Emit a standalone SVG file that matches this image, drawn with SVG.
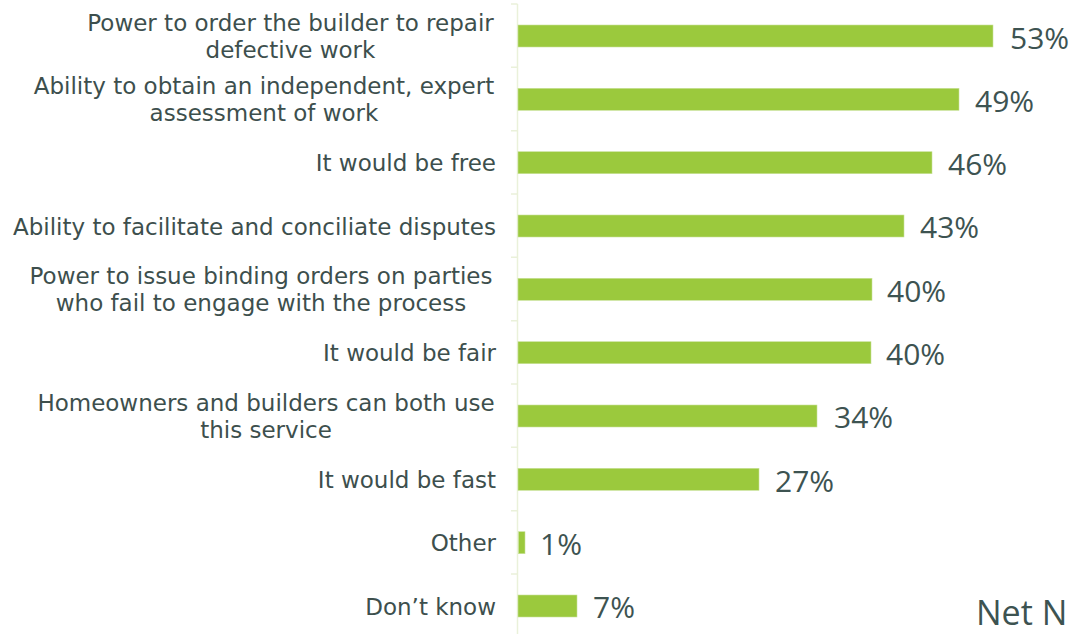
<svg xmlns="http://www.w3.org/2000/svg" width="1073" height="634" viewBox="0 0 1073 634">
  <style>
    .bg { fill: #ffffff; }
    .bar { fill: #9bc93d; stroke: #c9e29a; stroke-width: 0.6; }
    .lbl { font-family: "DejaVu Sans", "Liberation Sans", sans-serif; font-size: 23px; fill: #3d4f4d; }
    .pct { font-family: "Open Sans", "Liberation Sans", sans-serif; font-size: 30px; fill: #3d5351; }
    .axis { stroke: #eaf1da; stroke-width: 1.5; fill: none; }
    .net { font-family: "Open Sans", "Liberation Sans", sans-serif; font-size: 34px; fill: #3d5351; }
  </style>
  <rect class="bg" x="0" y="0" width="1073" height="634"/>

  <g id="axis">
    <path class="axis" d="M517.5 4 V634 M511 4 H517.5 M511 67.3 H517.5 M511 130.7 H517.5 M511 194 H517.5 M511 257.3 H517.5 M511 320.7 H517.5 M511 384 H517.5 M511 447.3 H517.5 M511 510.7 H517.5 M511 574 H517.5"/>
  </g>

  <g id="row-repair">
    <text class="lbl" x="290.5" y="30.5" text-anchor="middle">Power to order the builder to repair</text>
    <text class="lbl" x="290.5" y="57.5" text-anchor="middle">defective work</text>
    <rect class="bar" x="518" y="25" width="475" height="22"/>
    <text class="pct" x="1010" y="49">53%</text>
  </g>

  <g id="row-assessment">
    <text class="lbl" x="264" y="93.8" text-anchor="middle">Ability to obtain an independent, expert</text>
    <text class="lbl" x="264" y="120.8" text-anchor="middle">assessment of work</text>
    <rect class="bar" x="518" y="88.3" width="441" height="22"/>
    <text class="pct" x="975" y="111.5">49%</text>
  </g>

  <g id="row-free">
    <text class="lbl" x="496" y="171.2" text-anchor="end">It would be free</text>
    <rect class="bar" x="518" y="151.7" width="414" height="22"/>
    <text class="pct" x="948" y="175">46%</text>
  </g>

  <g id="row-conciliate">
    <text class="lbl" x="496" y="234.5" text-anchor="end">Ability to facilitate and conciliate disputes</text>
    <rect class="bar" x="518" y="215" width="386" height="22"/>
    <text class="pct" x="920" y="238.3">43%</text>
  </g>

  <g id="row-binding">
    <text class="lbl" x="261" y="283.8" text-anchor="middle">Power to issue binding orders on parties</text>
    <text class="lbl" x="261" y="310.8" text-anchor="middle">who fail to engage with the process</text>
    <rect class="bar" x="518" y="278.3" width="354" height="22"/>
    <text class="pct" x="887" y="301.6">40%</text>
  </g>

  <g id="row-fair">
    <text class="lbl" x="496" y="361.2" text-anchor="end">It would be fair</text>
    <rect class="bar" x="518" y="341.7" width="353" height="22"/>
    <text class="pct" x="886" y="365">40%</text>
  </g>

  <g id="row-both">
    <text class="lbl" x="266" y="410.5" text-anchor="middle">Homeowners and builders can both use</text>
    <text class="lbl" x="266" y="437.5" text-anchor="middle">this service</text>
    <rect class="bar" x="518" y="405" width="299" height="22"/>
    <text class="pct" x="834" y="428.3">34%</text>
  </g>

  <g id="row-fast">
    <text class="lbl" x="496" y="487.8" text-anchor="end">It would be fast</text>
    <rect class="bar" x="518" y="468.3" width="241" height="22"/>
    <text class="pct" x="775" y="491.6">27%</text>
  </g>

  <g id="row-other">
    <text class="lbl" x="496" y="551.2" text-anchor="end">Other</text>
    <rect class="bar" x="518.5" y="531.7" width="6.5" height="22"/>
    <text class="pct" x="540" y="555">1%</text>
  </g>

  <g id="row-dontknow">
    <text class="lbl" x="496" y="614.5" text-anchor="end">Don’t know</text>
    <rect class="bar" x="518" y="595" width="59" height="22"/>
    <text class="pct" x="593" y="618.3">7%</text>
  </g>

  <g id="footer">
    <text class="net" x="976" y="625">Net N</text>
  </g>
</svg>
